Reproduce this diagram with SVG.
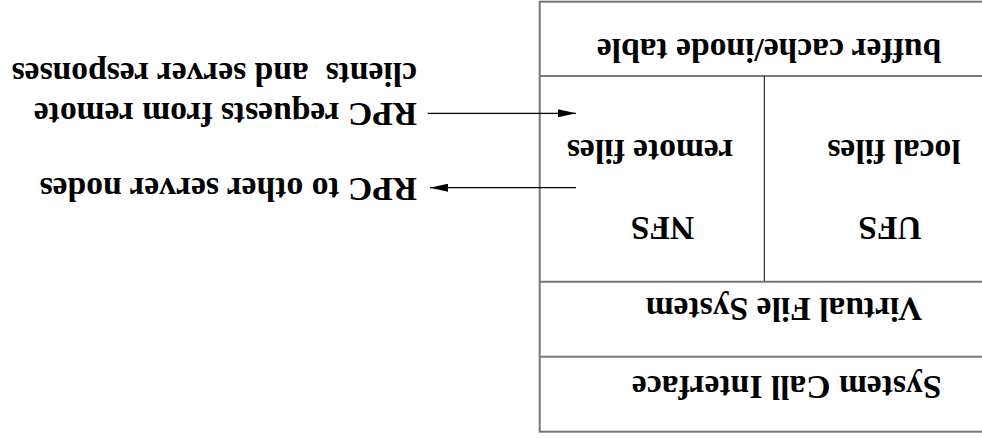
<svg xmlns="http://www.w3.org/2000/svg" width="982" height="439" viewBox="0 0 982 439">
<style>
text{font-family:"Liberation Serif","Times New Roman",serif;font-weight:bold;font-size:33.6px;fill:#000}
.c{text-anchor:middle}
.box{fill:none;stroke:#777;stroke-width:2}
.div{stroke:#777;stroke-width:2}
.v{stroke:#000;stroke-width:1}
.arr{stroke:#000;stroke-width:1.2;fill:none;marker-end:url(#ah)}
</style>
<defs>
<marker id="ah" viewBox="0 0 18 8" refX="18" refY="4" markerWidth="18" markerHeight="8" markerUnits="userSpaceOnUse" orient="auto">
<path d="M0,0 L18,4 L0,8 Z" fill="#000"/>
</marker>
</defs>
<rect width="982" height="439" fill="#fff"/>
<g transform="rotate(180 491 219.5)">
<g id="stack">
<rect class="box" x="-10" y="7.3" width="452.3" height="430"/>
</g>
<g id="buffer-cache">
<line class="div" x1="-10" y1="363" x2="442.3" y2="363"/>
<text class="c" x="213" y="400.2">buffer cache/inode table</text>
</g>
<g id="ufs">
<text class="c" x="88" y="299">local files</text>
<text class="c" x="92" y="222.3">UFS</text>
</g>
<g id="nfs">
<line class="v" x1="217.7" y1="157.3" x2="217.7" y2="363"/>
<text class="c" x="332" y="299">remote files</text>
<text class="c" x="319.5" y="222.3">NFS</text>
</g>
<g id="vfs">
<line class="div" x1="-10" y1="157.3" x2="442.3" y2="157.3"/>
<text class="c" x="198" y="141.2">Virtual File System</text>
</g>
<g id="syscall">
<line class="div" x1="-10" y1="82.3" x2="442.3" y2="82.3"/>
<text class="c" x="195.3" y="63.2">System Call Interface</text>
</g>
<g id="rpc-in">
<text x="565" y="375.7" xml:space="preserve">clients  and server responses</text>
<text x="565" y="335.7">RPC requests from remote</text>
</g>
<g id="rpc-out">
<text x="565" y="260.7">RPC to other server nodes</text>
</g>
<g id="connectors">
<line class="arr" x1="554.3" y1="325.7" x2="406" y2="325.7"/>
<line class="arr" x1="406" y1="251.3" x2="552" y2="251.3"/>
</g>
</g>
</svg>
